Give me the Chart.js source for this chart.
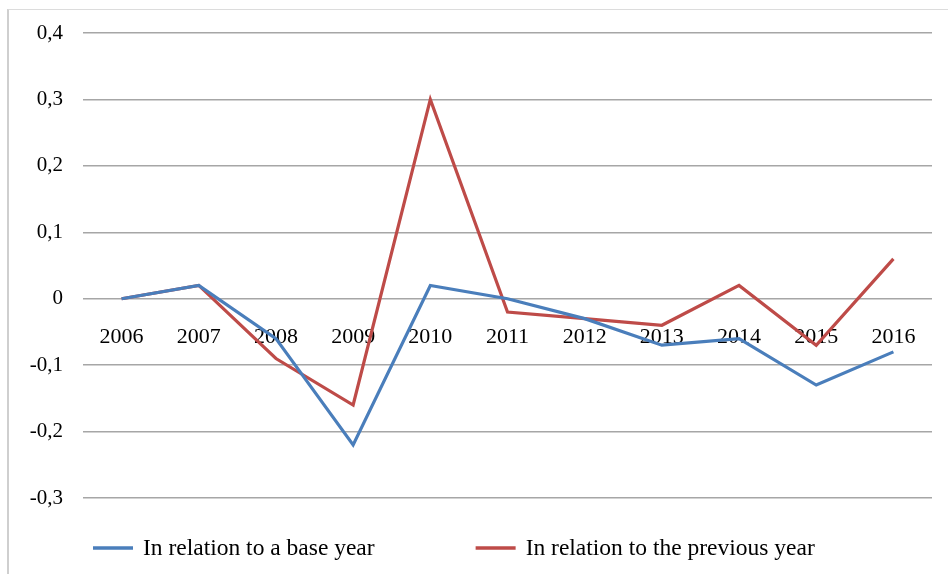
<!DOCTYPE html>
<html>
<head>
<meta charset="utf-8">
<script src="https://cdn.jsdelivr.net/npm/chart.js@4"></script>
<style>
  html, body { margin: 0; padding: 0; background: #fff; }
  #wrap { position: relative; width: 948px; height: 574px; overflow: hidden; }
  #frame { position: absolute; left: 7px; top: 9px; width: 960px; height: 600px;
           border-left: 2px solid #cfcfcf; border-top: 1px solid #dcdcdc; }
  canvas { position: absolute; left: 0; top: 0; }
</style>
</head>
<body>
<div id="wrap">
  <div id="frame"></div>
  <canvas id="c" width="948" height="574"></canvas>
</div>
<script>
const years = ['2006','2007','2008','2009','2010','2011','2012','2013','2014','2015','2016'];
const baseYear = [0, 0.02, -0.06, -0.22, 0.02, 0.0, -0.03, -0.07, -0.06, -0.13, -0.08];
const previousYear = [0, 0.02, -0.09, -0.16, 0.30, -0.02, -0.03, -0.04, 0.02, -0.07, 0.06];
const seriesNames = ['In relation to a base year', 'In relation to the previous year'];
const yMin = -0.3, yMax = 0.4, yStep = 0.1;

const blue = '#4a7ebb';
const red = '#be4b48';

// Legend drawn under the plot (Excel-style spacing between the two entries)
const bottomLegend = {
  id: 'bottomLegend',
  afterDraw(chart) {
    const ctx = chart.ctx;
    const y = 548;
    const lineLen = 40, textGap = 10, itemGap = 101;
    let x = 93;
    ctx.save();
    ctx.font = '23.5px "Liberation Serif"';
    ctx.textBaseline = 'middle';
    ctx.textAlign = 'left';
    chart.data.datasets.forEach((ds) => {
      ctx.strokeStyle = ds.borderColor;
      ctx.lineWidth = 3.5;
      ctx.beginPath();
      ctx.moveTo(x, y);
      ctx.lineTo(x + lineLen, y);
      ctx.stroke();
      ctx.fillStyle = '#000';
      ctx.fillText(ds.label, x + lineLen + textGap, y + 1);
      x += lineLen + textGap + ctx.measureText(ds.label).width + itemGap;
    });
    ctx.restore();
  }
};

new Chart(document.getElementById('c'), {
  type: 'line',
  data: {
    labels: years,
    datasets: [
      { label: seriesNames[0], data: baseYear, borderColor: blue, backgroundColor: blue,
        borderWidth: 3.2, pointRadius: 0, tension: 0, fill: false },
      { label: seriesNames[1], data: previousYear, borderColor: red, backgroundColor: red,
        borderWidth: 3.2, pointRadius: 0, tension: 0, fill: false }
    ]
  },
  plugins: [bottomLegend],
  options: {
    responsive: false,
    animation: false,
    devicePixelRatio: 1,
    layout: { padding: { left: 0, right: 16, top: 33, bottom: 76 } },
    plugins: {
      tooltip: { enabled: false },
      legend: { display: false }
    },
    scales: {
      x: {
        position: { y: 0 },
        offset: true,
        grid: { display: false, drawTicks: false },
        border: { display: false },
        ticks: {
          font: { family: 'Liberation Serif', size: 22 },
          color: '#000',
          padding: 25,
          maxRotation: 0,
          autoSkip: false
        }
      },
      y: {
        min: yMin,
        max: yMax,
        afterFit: (s) => { s.width = 83; },
        grid: { color: '#a6a6a6', lineWidth: 1.5, drawTicks: false },
        border: { display: false },
        ticks: {
          stepSize: yStep,
          padding: 20,
          font: { family: 'Liberation Serif', size: 21 },
          color: '#000',
          callback: (v) => {
            const r = Math.round(v * 10) / 10;
            if (r === 0) return '0';
            return r.toFixed(1).replace('.', ',');
          }
        }
      }
    }
  }
});
</script>
</body>
</html>
